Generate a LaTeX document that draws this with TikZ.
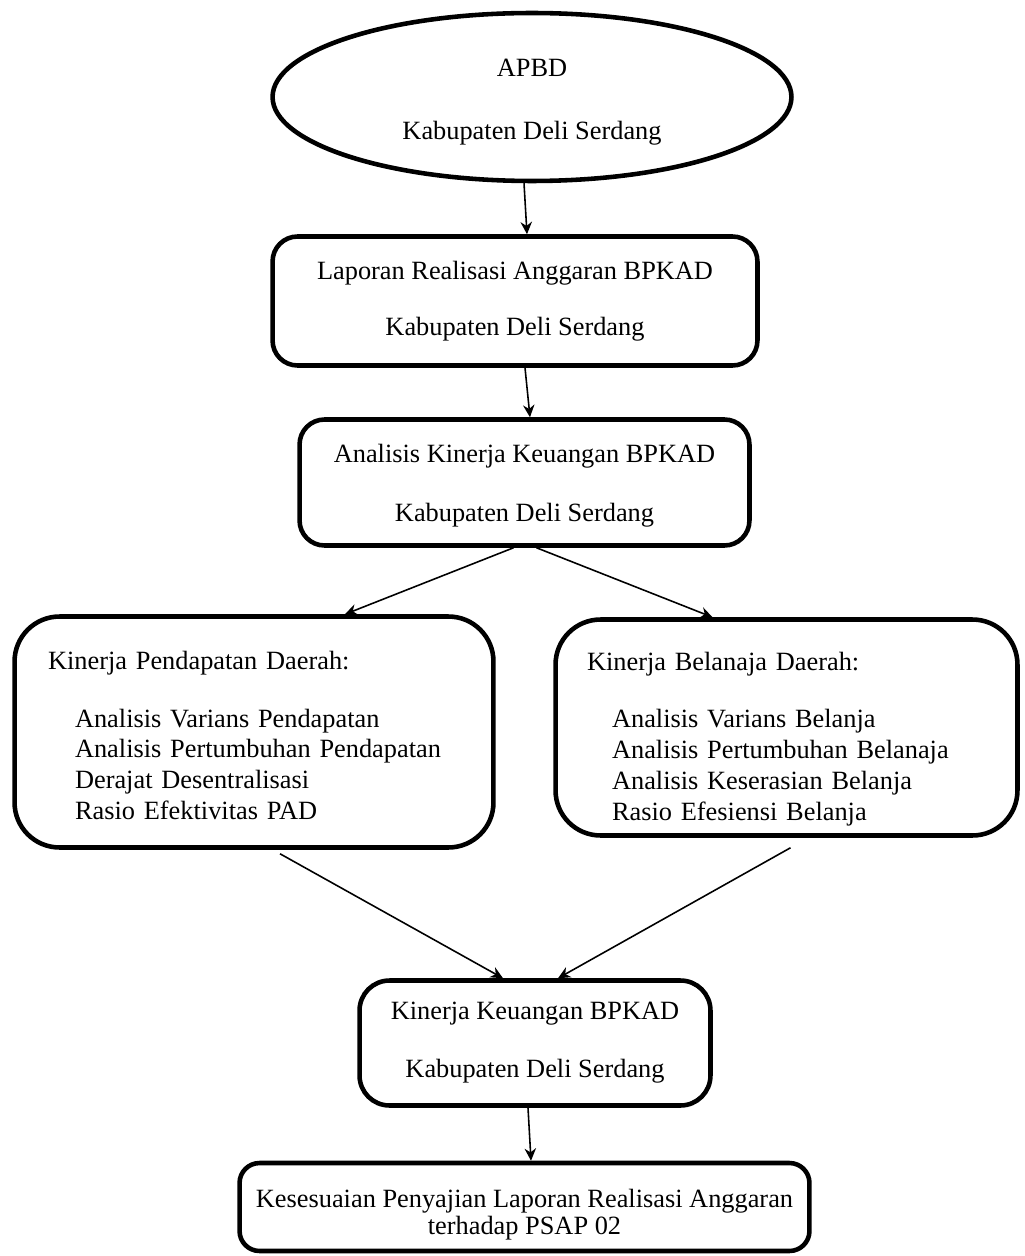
\documentclass[tikz,border=0pt]{standalone}
\usepackage{fontspec}
\setmainfont{Liberation Serif}
\usepackage{tikz}
\usetikzlibrary{positioning}
\usetikzlibrary{calc}
\usetikzlibrary{shapes.geometric}
\usetikzlibrary{arrows.meta}

\begin{document}
\begin{tikzpicture}[-> , >={Stealth[length=7pt,width=6.5pt]}, line width=0.9pt,
    x=0.02cm, y=-0.02cm, font=\fontsize{15}{17.5}\selectfont,
    kotak/.style={draw, line width=2.6pt, rounded corners=#1, align=center, inner sep=0pt},
    kotak/.default=0.5cm]
        \useasboundingbox (0,0) rectangle (1024,1256);

        \node [ellipse, draw, line width=2.6pt, minimum width=10.38cm, minimum height=3.36cm,
            align=center, inner sep=0pt] (apbd) at (532,97)
            {\rule{0pt}{16pt}APBD\\[18.5pt]Kabupaten Deli Serdang};
        \node [kotak, minimum width=9.7cm, minimum height=2.58cm] (lra) at (515,301)
            {Laporan Realisasi Anggaran BPKAD\\[14.5pt]Kabupaten Deli Serdang};
        \node [kotak, minimum width=9.0cm, minimum height=2.52cm] (analisis) at (524.5,482.5)
            {\rule{0pt}{14pt}Analisis Kinerja Keuangan BPKAD\\[16.5pt]Kabupaten Deli Serdang};

        \node [kotak=0.9cm, minimum width=9.58cm, minimum height=4.62cm, text width=8.24cm,
            align=left] (pendapatan) at (254,732)
            {\rule{0pt}{14.5pt}Kinerja Pendapatan Daerah:\\[15pt]
            \hspace*{0.54cm}Analisis Varians Pendapatan\\
            \hspace*{0.54cm}Analisis Pertumbuhan Pendapatan\\
            \hspace*{0.54cm}Derajat Desentralisasi\\
            \hspace*{0.54cm}Rasio Efektivitas PAD};
        \node [kotak=0.9cm, minimum width=9.24cm, minimum height=4.32cm, text width=7.98cm,
            align=left] (belanja) at (786.5,727.5)
            {\rule{0pt}{23.5pt}Kinerja Belanaja Daerah:\\[15pt]
            \hspace*{0.5cm}Analisis Varians Belanja\\
            \hspace*{0.5cm}Analisis Pertumbuhan Belanaja\\
            \hspace*{0.5cm}Analisis Keserasian Belanja\\
            \hspace*{0.5cm}Rasio Efesiensi Belanja};

        \node [kotak=0.6cm, minimum width=7.02cm, minimum height=2.5cm] (kinerja) at (535,1043)
            {Kinerja Keuangan BPKAD\\[15.5pt]Kabupaten Deli Serdang};
        \node [kotak=0.4cm, minimum width=11.4cm, minimum height=1.76cm] (psap) at (524.5,1207)
            {\rule{0pt}{19.5pt}Kesesuaian Penyajian Laporan Realisasi Anggaran\\[-2pt]terhadap PSAP 02};

        \path ($(apbd.south)+(-8,0)$) edge ($(lra.north)+(12,0)$);
        \path ($(lra.south)+(10,0)$) edge ($(analisis.north)+(5.5,0)$);
        \path ($(analisis.south)+(-11,0)$) edge ($(pendapatan.north)+(91,0)$);
        \path ($(analisis.south)+(12,0)$) edge ($(belanja.north)+(-74,0)$);
        \path ($(pendapatan.south)+(26,4)$) edge ($(kinerja.north)+(-32,0)$);
        \path ($(belanja.south)+(4,10)$) edge ($(kinerja.north)+(23,0)$);
        \path ($(kinerja.south)+(-7,0)$) edge ($(psap.north)+(6.5,0)$);
\end{tikzpicture}
\end{document}
